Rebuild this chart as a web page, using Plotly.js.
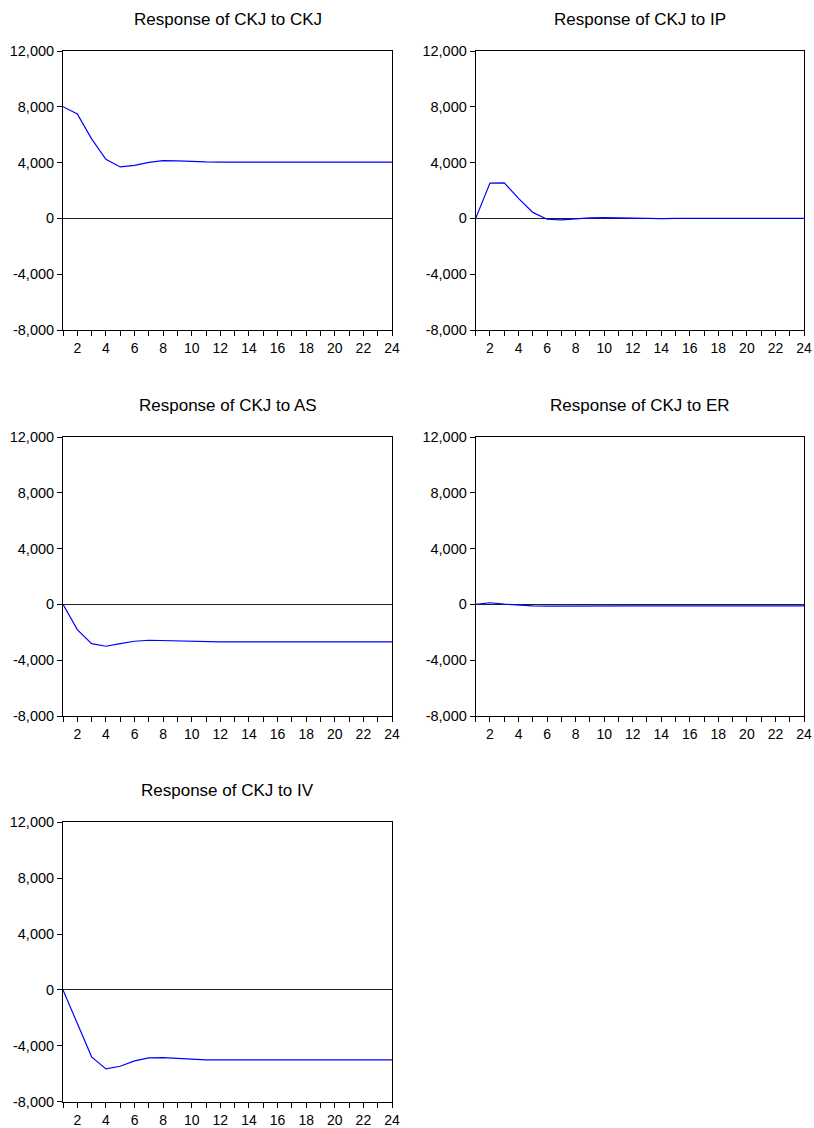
<!DOCTYPE html>
<html>
<head>
<meta charset="utf-8">
<script src="https://cdn.plot.ly/plotly-3.0.1.min.js"></script>
<style>html,body{margin:0;padding:0;background:#fff;}#chart{width:814px;height:1128px;}</style>
</head>
<body>
<div id="chart"></div>
<script>
// Periods (horizon)
const periods = [1,2,3,4,5,6,7,8,9,10,11,12,13,14,15,16,17,18,19,20,21,22,23,24];

// Impulse responses of CKJ
const respCKJ = [8010,7480,5700,4240,3690,3800,4020,4140,4120,4070,4050,4040,4030,4035,4040,4040,4040,4040,4040,4040,4040,4040,4040,4040];
const respIP  = [0,2530,2550,1440,430,-60,-100,-20,40,60,40,0,-10,-10,-5,-5,-5,-5,-5,-5,-5,-5,-5,-5];
const respAS  = [0,-1810,-2810,-3000,-2810,-2640,-2570,-2600,-2640,-2670,-2690,-2690,-2690,-2690,-2690,-2690,-2690,-2690,-2690,-2690,-2690,-2690,-2690,-2690];
const respER  = [0,120,20,-70,-110,-120,-110,-110,-110,-110,-110,-110,-110,-110,-110,-110,-110,-110,-110,-110,-110,-110,-110,-100];
const respIV  = [0,-2400,-4790,-5650,-5460,-5080,-4860,-4840,-4910,-4980,-5000,-5000,-5000,-5000,-5000,-5000,-5000,-5000,-5000,-5000,-5000,-5000,-5000,-5000];

const panelTitles = ["Response of CKJ to CKJ","Response of CKJ to IP","Response of CKJ to AS","Response of CKJ to ER","Response of CKJ to IV"];
const seriesList = [respCKJ, respIP, respAS, respER, respIV];

// Tick labels
const yTickVals = [-8000,-4000,0,4000,8000,12000];
const yTickText = ["-8,000","-4,000","0","4,000","8,000","12,000"];
const xTickVals = periods;
const xTickText = periods.map(p => (p % 2 === 0 ? String(p) : ""));

// Layout geometry (pixels in 814x1128 page)
const W = 814, H = 1128;
const cols = [[63,392],[475.7,804]];
const rows = [[51,330],[437,716],[822.3,1101.7]];

const font = "Liberation Sans, Arial, sans-serif";
const traces = [];
const layout = {
  width: W, height: H,
  margin: {l:0, r:0, t:0, b:0},
  paper_bgcolor: "#fff", plot_bgcolor: "#fff",
  showlegend: false,
  font: {family: font, color: "#000", size: 14},
  annotations: []
};

seriesList.forEach((vals, i) => {
  const r = Math.floor(i / 2), c = i % 2;
  const n = i + 1;
  const xa = "x" + (n === 1 ? "" : n), ya = "y" + (n === 1 ? "" : n);
  traces.push({
    x: periods, y: vals, type: "scatter", mode: "lines",
    xaxis: xa, yaxis: ya,
    line: {color: "#0000FF", width: 1.2},
    hoverinfo: "skip"
  });
  const xd = [cols[c][0] / W, cols[c][1] / W];
  const yd = [1 - rows[r][1] / H, 1 - rows[r][0] / H];
  layout["xaxis" + (n === 1 ? "" : n)] = {
    domain: xd, anchor: ya, range: [1, 24],
    tickmode: "array", tickvals: xTickVals, ticktext: xTickText,
    ticks: "outside", ticklen: 5, tickwidth: 1, tickcolor: "#000",
    showline: true, linecolor: "#000", linewidth: 1, mirror: true,
    showgrid: false, zeroline: false, fixedrange: true,
    tickfont: {family: font, size: 14, color: "#000"}
  };
  layout["yaxis" + (n === 1 ? "" : n)] = {
    domain: yd, anchor: xa, range: [-8000, 12000],
    tickmode: "array", tickvals: yTickVals, ticktext: yTickText,
    ticks: "outside", ticklen: 5, tickwidth: 1, tickcolor: "#000",
    showline: true, linecolor: "#000", linewidth: 1, mirror: true,
    showgrid: false, zeroline: true, zerolinecolor: "#222", zerolinewidth: 1,
    fixedrange: true,
    tickfont: {family: font, size: 14.5, color: "#000"}
  };
  layout.annotations.push({
    text: panelTitles[i], xref: "paper", yref: "paper",
    x: (xd[0] + xd[1]) / 2, y: yd[1], xanchor: "center", yanchor: "middle",
    yshift: 32, showarrow: false,
    font: {family: font, size: 17, color: "#000"}
  });
});

Plotly.newPlot("chart", traces, layout, {staticPlot: true, displayModeBar: false});
</script>
</body>
</html>
